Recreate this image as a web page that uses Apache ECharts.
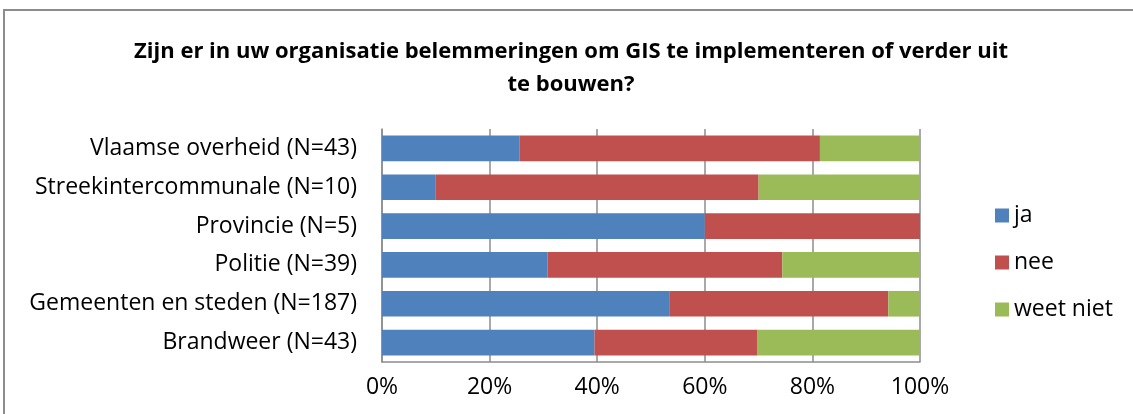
<!DOCTYPE html>
<html>
<head>
<meta charset="utf-8">
<script src="https://cdn.jsdelivr.net/npm/echarts@6/dist/echarts.min.js"></script>
<style>
  html, body { margin: 0; padding: 0; background: #fff; }
  #frame { position: absolute; left: 3px; top: 9px; width: 1140px; height: 420px; border: 2px solid #8c8c8c; box-sizing: border-box; }
  #chart { position: absolute; left: 0; top: 0; width: 1133px; height: 414px; }
</style>
</head>
<body>
<div id="frame"></div>
<div id="chart"></div>
<script>
const categories = [
  'Vlaamse overheid (N=43)',
  'Streekintercommunale (N=10)',
  'Provincie (N=5)',
  'Politie (N=39)',
  'Gemeenten en steden (N=187)',
  'Brandweer (N=43)'
]
const jaValues = [25.6, 10, 60, 30.8, 53.5, 39.5]
const neeValues = [55.8, 60, 40, 43.6, 40.6, 30.2]
const weetNietValues = [18.6, 30, 0, 25.6, 5.9, 30.3]
const seriesNames = ['ja', 'nee', 'weet niet']
const colors = ['#4f81bd', '#c0504d', '#9bbb59']

const font = '"Open Sans", sans-serif'
const chart = echarts.init(document.getElementById('chart'))

const barSeries = (name, data) => ({
  name,
  type: 'bar',
  stack: 'total',
  data,
  barCategoryGap: '34%',
  itemStyle: { borderWidth: 0 }
})

chart.setOption({
  animation: false,
  color: colors,
  title: {
    text: 'Zijn er in uw organisatie belemmeringen om GIS te implementeren of verder uit\nte bouwen?',
    left: 566,
    textAlign: 'center',
    top: 30,
    textStyle: {
      fontFamily: font,
      fontSize: 22,
      fontWeight: 'bold',
      color: '#000',
      lineHeight: 33
    }
  },
  legend: {
    orient: 'vertical',
    left: 990,
    top: 199,
    itemWidth: 14,
    itemHeight: 14,
    itemGap: 24,
    icon: 'rect',
    data: seriesNames,
    textStyle: { fontFamily: font, fontSize: 23, color: '#000' }
  },
  grid: { left: 382, right: 213, top: 129, bottom: 52 },
  xAxis: {
    type: 'value',
    min: 0,
    max: 100,
    interval: 20,
    axisLine: { show: true, lineStyle: { color: '#8c8c8c', width: 1.5 } },
    axisTick: { show: false },
    splitLine: { show: true, lineStyle: { color: '#8c8c8c', width: 1.5 } },
    axisLabel: {
      formatter: '{value}%',
      fontFamily: font,
      fontSize: 23,
      color: '#000',
      margin: 14
    }
  },
  yAxis: {
    type: 'category',
    data: categories,
    inverse: true,
    axisLine: { show: true, lineStyle: { color: '#8c8c8c', width: 1.5 } },
    axisTick: { show: false },
    axisLabel: { fontFamily: font, fontSize: 23, color: '#000', margin: 25 }
  },
  series: [
    barSeries(seriesNames[0], jaValues),
    barSeries(seriesNames[1], neeValues),
    barSeries(seriesNames[2], weetNietValues)
  ]
})

window.addEventListener('resize', () => chart.resize())
</script>
</body>
</html>
